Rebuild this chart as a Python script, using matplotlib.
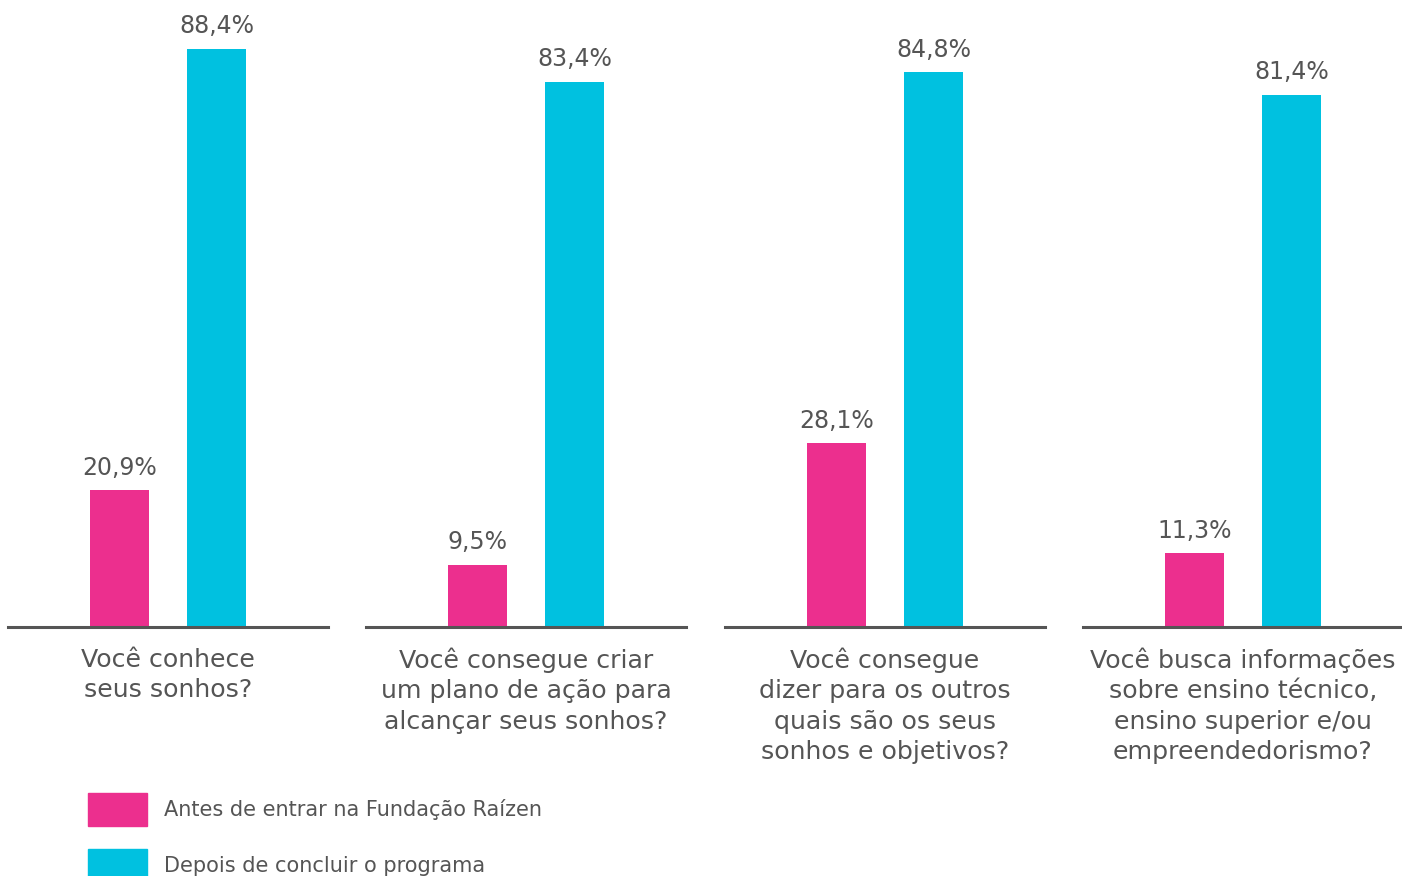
import matplotlib.pyplot as plt
from matplotlib.patches import Rectangle

plt.rcParams['font.family'] = ['DejaVu Sans']

categories = [
    "Você conhece\nseus sonhos?",
    "Você consegue criar\num plano de ação para\nalcançar seus sonhos?",
    "Você consegue\ndizer para os outros\nquais são os seus\nsonhos e objetivos?",
    "Você busca informações\nsobre ensino técnico,\nensino superior e/ou\nempreendedorismo?",
]
antes = [20.9, 9.5, 28.1, 11.3]
depois = [88.4, 83.4, 84.8, 81.4]
series_names = ["Antes de entrar na Fundação Raízen", "Depois de concluir o programa"]

pink = "#EC2F8E"
cyan = "#00C1E0"
gray = "#555555"

W, H = 1402, 876
fig = plt.figure(figsize=(W / 100, H / 100), dpi=100)

lefts = [8, 366, 725, 1083]
base_y = 627

for i, left in enumerate(lefts):
    ax = fig.add_axes([left / W, 1 - base_y / H, 320 / W, base_y / H])
    vals = [antes[i], depois[i]]
    ax.bar([0, 1], vals, width=0.61, color=[pink, cyan])
    for x, v in zip([0, 1], vals):
        ax.text(x, v + 1.6, f"{v:.1f}%".replace(".", ","), ha="center", va="bottom",
                fontsize=17, color=gray)
    ax.set_xlim(-1.15, 2.15)
    ax.set_ylim(0, base_y / 6.54)
    for s in ["top", "left", "right"]:
        ax.spines[s].set_visible(False)
    ax.spines["bottom"].set_color(gray)
    ax.spines["bottom"].set_linewidth(2.2)
    ax.set_xticks([])
    ax.set_yticks([])
    ax.patch.set_alpha(0)
    ax.text(0.5, -0.033, categories[i], transform=ax.transAxes, ha="center", va="top",
            fontsize=18.2, color=gray, linespacing=1.33)

# legend
for j, (name, col) in enumerate(zip(series_names, [pink, cyan])):
    y_top = 793 + j * 56
    fig.patches.append(Rectangle((88 / W, 1 - (y_top + 33) / H), 59 / W, 33 / H,
                                 transform=fig.transFigure, color=col))
    fig.text(164 / W, 1 - (y_top + 17) / H, name, ha="left", va="center",
             fontsize=15, color=gray)

fig.savefig("out.png", dpi=100)
